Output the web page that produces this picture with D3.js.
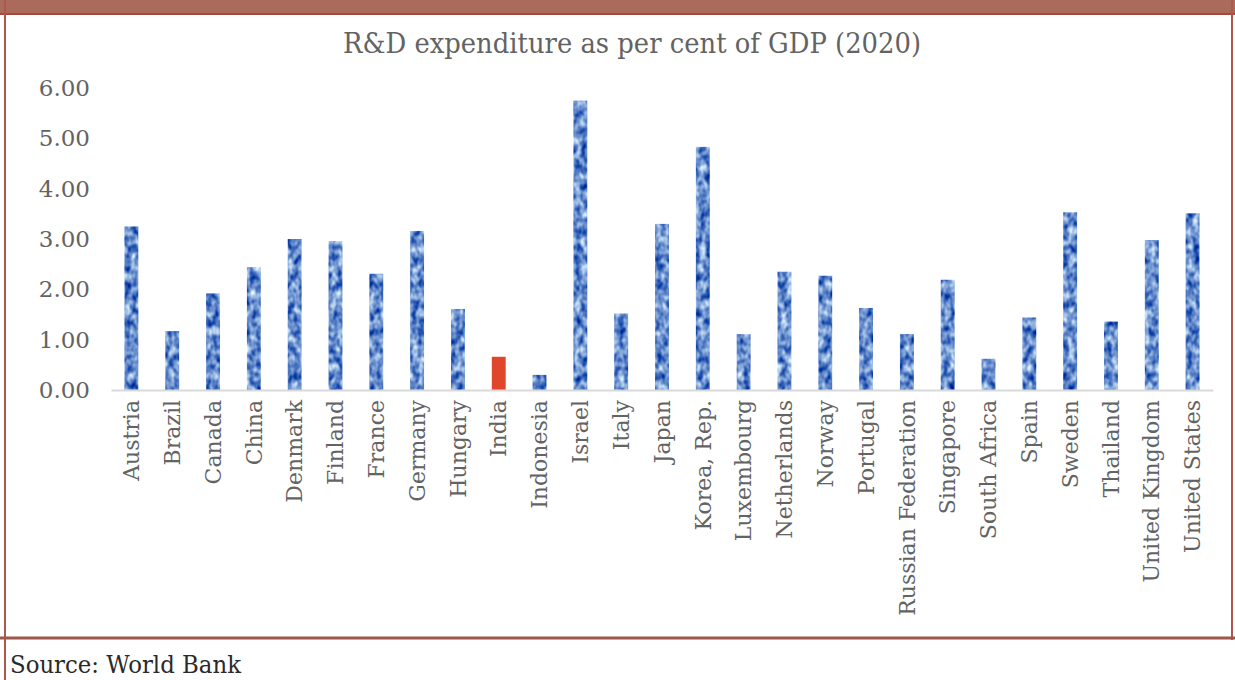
<!DOCTYPE html>
<html>
<head>
<meta charset="utf-8">
<script src="https://cdn.jsdelivr.net/npm/d3@7"></script>
<style>
  html, body { margin: 0; padding: 0; background: #fff; }
  svg { display: block; }
  .tick text { font-family: "DejaVu Serif", serif; fill: #636363; }
</style>
</head>
<body>
<svg id="chart" width="1235" height="680"></svg>
<script>
// data
const countries = ["Austria", "Brazil", "Canada", "China", "Denmark", "Finland", "France", "Germany",
  "Hungary", "India", "Indonesia", "Israel", "Italy", "Japan", "Korea, Rep.", "Luxembourg",
  "Netherlands", "Norway", "Portugal", "Russian Federation", "Singapore", "South Africa",
  "Spain", "Sweden", "Thailand", "United Kingdom", "United States"];
const rdShare = [3.25, 1.17, 1.92, 2.44, 3.00, 2.96, 2.31, 3.16, 1.61, 0.66, 0.30, 5.75, 1.52,
  3.30, 4.83, 1.11, 2.35, 2.27, 1.63, 1.11, 2.19, 0.62, 1.44, 3.53, 1.36, 2.98, 3.51];
const yTicks = [0, 1, 2, 3, 4, 5, 6];
const highlight = "India";

const W = 1235, H = 680;
const svg = d3.select("#chart");

// frame
svg.append("rect").attr("x", 0).attr("y", 0).attr("width", W).attr("height", 14).attr("fill", "#ab6b5c");
svg.append("line").attr("x1", 0).attr("x2", W).attr("y1", 14).attr("y2", 14)
  .attr("stroke", "#a4493d").attr("stroke-width", 2);
svg.append("line").attr("x1", 5).attr("x2", 5).attr("y1", 0).attr("y2", H)
  .attr("stroke", "#b0574b").attr("stroke-width", 2);
svg.append("line").attr("x1", 1232).attr("x2", 1232).attr("y1", 0).attr("y2", 640)
  .attr("stroke", "#b0574b").attr("stroke-width", 2);
svg.append("line").attr("x1", 0).attr("x2", W).attr("y1", 638).attr("y2", 638)
  .attr("stroke", "#a0574b").attr("stroke-width", 3);

// mottled blue texture for bars
const defs = svg.append("defs");
const f = defs.append("filter").attr("id", "mottle")
  .attr("x", "-20%").attr("y", "-5%").attr("width", "140%").attr("height", "110%")
  .attr("color-interpolation-filters", "sRGB");
f.append("feTurbulence").attr("type", "fractalNoise").attr("baseFrequency", "0.16 0.11")
  .attr("numOctaves", 2).attr("seed", 5).attr("result", "noise");
f.append("feColorMatrix").attr("in", "noise").attr("type", "matrix")
  .attr("values", "-1.4 0 0 0 1.1  -1.2 0 0 0 1.15  -0.6 0 0 0 1.1  0 0 0 0 1")
  .attr("result", "blue");
f.append("feComposite").attr("in", "blue").attr("in2", "SourceGraphic").attr("operator", "in");

const x = d3.scaleBand().domain(countries).range([111, 1213]).paddingInner(0.66).paddingOuter(0.33);
const y = d3.scaleLinear().domain([0, 6]).range([390, 88]);

// title
svg.append("text").attr("x", 632).attr("y", 53).attr("text-anchor", "middle")
  .attr("font-family", "DejaVu Serif, serif").attr("font-size", 27).attr("fill", "#636363")
  .attr("textLength", 578).attr("lengthAdjust", "spacingAndGlyphs")
  .text("R&D expenditure as per cent of GDP (2020)");

// y axis
const yAxis = svg.append("g").attr("transform", "translate(92,0)")
  .call(d3.axisLeft(y).tickValues(yTicks).tickSize(0).tickPadding(2).tickFormat(d3.format(".2f")));
yAxis.select(".domain").remove();
yAxis.selectAll("text").attr("font-size", 23);

// bars
svg.append("g").selectAll("rect").data(countries).join("rect")
  .attr("x", d => x(d))
  .attr("width", x.bandwidth())
  .attr("y", (d, i) => y(rdShare[i]))
  .attr("height", (d, i) => y(0) - y(rdShare[i]))
  .attr("fill", d => d === highlight ? "#e0462c" : "#5577b5")
  .attr("filter", d => d === highlight ? null : "url(#mottle)");

// x axis
const xAxis = svg.append("g").attr("transform", `translate(0,${y(0)})`)
  .call(d3.axisBottom(x).tickSize(0).tickSizeOuter(0));
xAxis.select(".domain").attr("stroke", "#d9d9d9").attr("stroke-width", 2);
xAxis.selectAll("text")
  .attr("font-size", 22)
  .attr("text-anchor", "end")
  .attr("transform", "rotate(-90)")
  .attr("x", -10).attr("y", 0).attr("dy", "0.35em");

// source
svg.append("text").attr("x", 10).attr("y", 673)
  .attr("font-family", "DejaVu Serif, serif").attr("font-size", 24).attr("fill", "#2a2a2a")
  .attr("textLength", 231).attr("lengthAdjust", "spacingAndGlyphs")
  .text("Source: World Bank");
</script>
</body>
</html>
